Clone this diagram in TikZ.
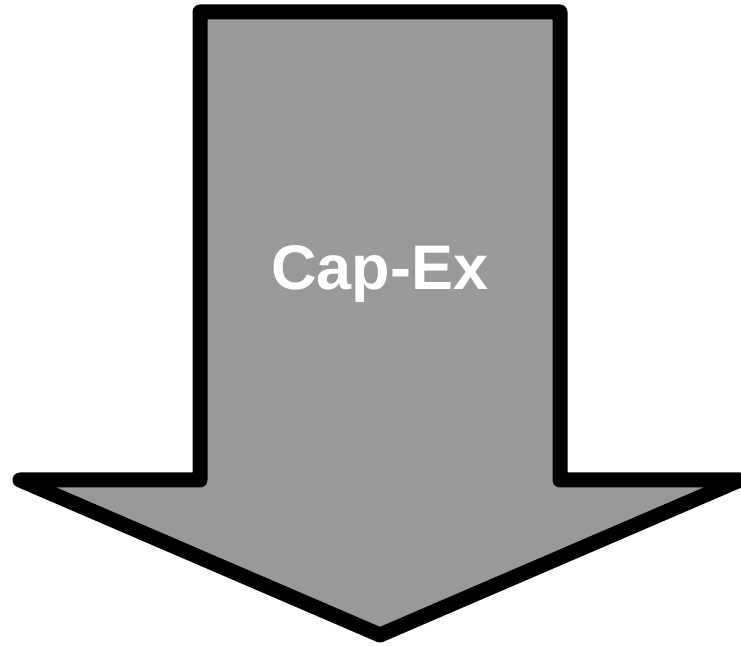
\documentclass[tikz,border=0pt]{standalone}
\usepackage{fontspec}
\setmainfont{Liberation Sans}
\usetikzlibrary{math}
\definecolor{arrowgray}{RGB}{153,153,153}

\begin{document}
\begin{tikzpicture}[x=0.5pt,y=-0.5pt]
\tikzmath{
\cx=380; \sh=180; \hd=360;
}
\useasboundingbox (0,0) rectangle (741,646);

\draw[line width=7.5pt,line join=round,fill=arrowgray] (\cx-\sh,12) -- (\cx+\sh,12) -- (\cx+\sh,480) -- (\cx+\hd,480) -- (\cx,635) -- (\cx-\hd,480) -- (\cx-\sh,480) -- cycle;
\node[text=white,font=\bfseries\fontsize{31.5}{37}\selectfont] (capex) at (\cx,274) {Cap-Ex};

\end{tikzpicture}
\end{document}
